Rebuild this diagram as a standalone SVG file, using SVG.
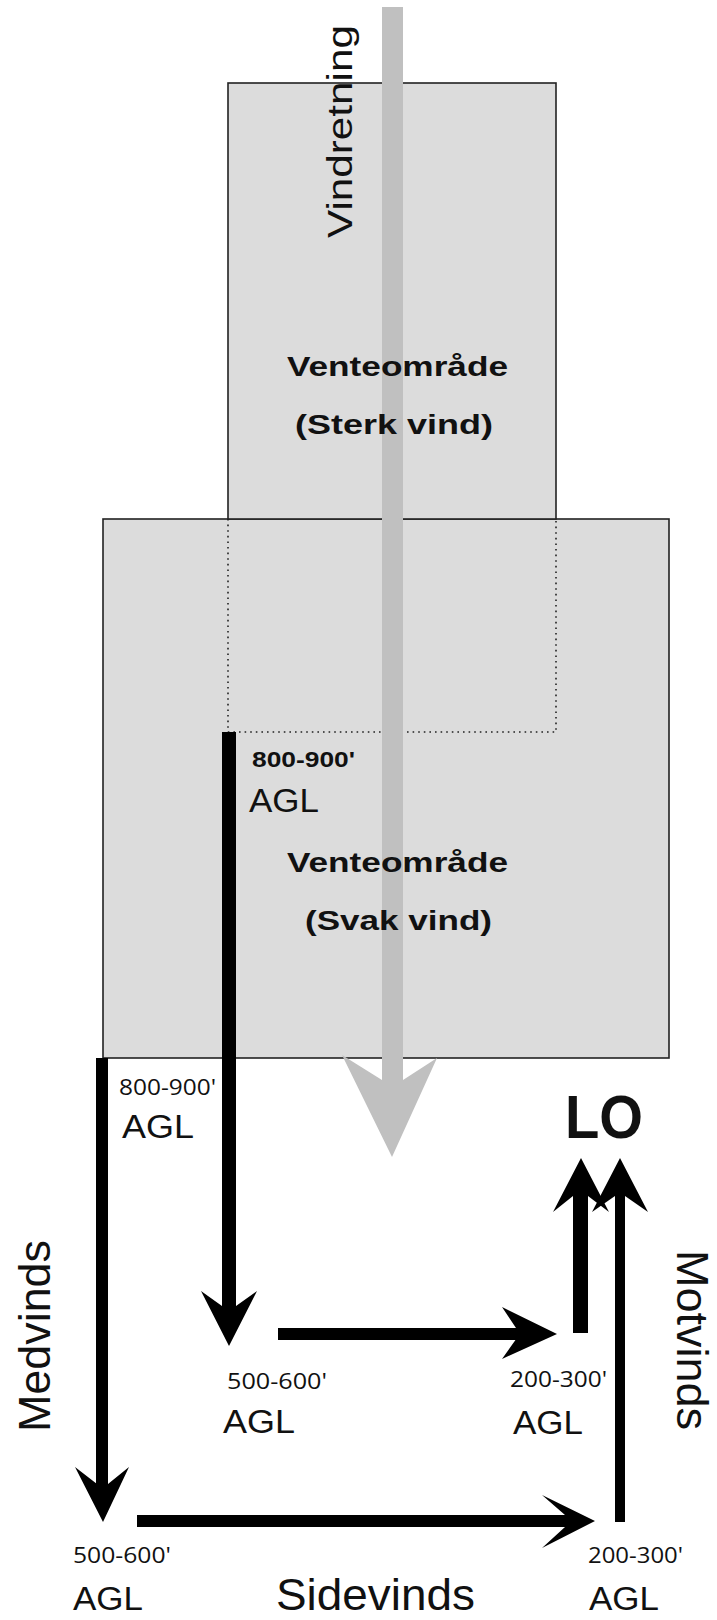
<svg xmlns="http://www.w3.org/2000/svg" width="717" height="1620" viewBox="0 0 717 1620">
<style>
.box{fill:#dcdcdc;stroke:#222;stroke-width:1.6}
.dot{fill:none;stroke:#222;stroke-width:1.6;stroke-dasharray:1.6 4}
.wind{fill:#c0c0c0}
.arr{fill:#000}
.t{font-family:"Liberation Sans",Arial,sans-serif;fill:#111}
.b{font-family:"Liberation Sans",Arial,sans-serif;font-weight:bold;fill:#111}
.n{font-family:"Open Sans","Liberation Sans",sans-serif;fill:#111;font-size:22px}
.agl{font-size:33px}
.big{font-size:45px}
.ven{font-size:28px}
</style>
<rect width="717" height="1620" fill="#fff"/>
<g id="venteomrade-svak">
<rect class="box" x="103" y="519" width="566" height="539"/>
</g>
<g id="venteomrade-sterk">
<rect class="box" x="228" y="83" width="328" height="436"/>
<path class="dot" d="M228,519 V732 H556 V519"/>
</g>
<g id="vindretning">
<path class="wind" d="M382,7 H403 V1080 L437,1058 L392,1157 L342,1055 L382,1080 Z"/>
<text class="t" transform="translate(352,238) rotate(-90)" font-size="35" textLength="213" lengthAdjust="spacingAndGlyphs">Vindretning</text>
</g>
<g id="labels-sterk">
<text class="b ven" x="287" y="376" textLength="221" lengthAdjust="spacingAndGlyphs">Venteområde</text>
<text class="b ven" x="295" y="434" textLength="198" lengthAdjust="spacingAndGlyphs">(Sterk vind)</text>
</g>
<g id="labels-svak">
<text class="b ven" x="287" y="872" textLength="221" lengthAdjust="spacingAndGlyphs">Venteområde</text>
<text class="b ven" x="305" y="930" textLength="187" lengthAdjust="spacingAndGlyphs">(Svak vind)</text>
</g>
<g id="connectors">
<rect class="arr" x="222" y="732" width="14" height="575"/>
<polygon class="arr" points="229,1346 257,1291 236,1306 222,1306 201,1291"/>
<rect class="arr" x="96" y="1058" width="12" height="427"/>
<polygon class="arr" points="103,1522 129,1467 108,1484 97,1484 75,1467"/>
<rect class="arr" x="278" y="1328" width="247" height="12"/>
<polygon class="arr" points="557,1334 502,1307 524,1340 524,1328 502,1359" />
<rect class="arr" x="137" y="1515" width="429" height="12"/>
<polygon class="arr" points="595,1521 542,1495 565,1515 565,1527 542,1548"/>
<rect class="arr" x="573" y="1195" width="15" height="138"/>
<polygon class="arr" points="581,1158 609,1212 588,1196 573,1196 553,1212"/>
<rect class="arr" x="615" y="1195" width="10" height="327"/>
<polygon class="arr" points="620,1158 648,1212 625,1196 615,1196 592,1212"/>
</g>
<g id="alt-1">
<text class="b" x="252" y="767" font-size="22" textLength="103" lengthAdjust="spacingAndGlyphs">800-900'</text>
<text class="t agl" x="249" y="812" textLength="70" lengthAdjust="spacingAndGlyphs">AGL</text>
</g>
<g id="alt-2">
<text class="n" x="119" y="1095" textLength="97" lengthAdjust="spacingAndGlyphs">800-900'</text>
<text class="t agl" x="122" y="1138" textLength="72" lengthAdjust="spacingAndGlyphs">AGL</text>
</g>
<g id="alt-3">
<text class="n" x="227" y="1389" textLength="100" lengthAdjust="spacingAndGlyphs">500-600'</text>
<text class="t agl" x="223" y="1433" textLength="72" lengthAdjust="spacingAndGlyphs">AGL</text>
</g>
<g id="alt-4">
<text class="n" x="510" y="1387" textLength="97" lengthAdjust="spacingAndGlyphs">200-300'</text>
<text class="t agl" x="513" y="1434" textLength="70" lengthAdjust="spacingAndGlyphs">AGL</text>
</g>
<g id="alt-5">
<text class="n" x="73" y="1563" textLength="98" lengthAdjust="spacingAndGlyphs">500-600'</text>
<text class="t agl" x="73" y="1610" textLength="70" lengthAdjust="spacingAndGlyphs">AGL</text>
</g>
<g id="alt-6">
<text class="n" x="588" y="1563" textLength="95" lengthAdjust="spacingAndGlyphs">200-300'</text>
<text class="t agl" x="589" y="1610" textLength="70" lengthAdjust="spacingAndGlyphs">AGL</text>
</g>
<g id="lo">
<text class="b" x="565" y="1138" font-size="62" textLength="78" lengthAdjust="spacingAndGlyphs">LO</text>
</g>
<g id="medvinds">
<text class="t big" transform="translate(50,1432) rotate(-90)" textLength="192" lengthAdjust="spacingAndGlyphs">Medvinds</text>
</g>
<g id="motvinds">
<text class="t big" transform="translate(677,1250) rotate(90)" textLength="180" lengthAdjust="spacingAndGlyphs">Motvinds</text>
</g>
<g id="sidevinds">
<text class="t big" x="276" y="1610" textLength="199" lengthAdjust="spacingAndGlyphs">Sidevinds</text>
</g>
</svg>
